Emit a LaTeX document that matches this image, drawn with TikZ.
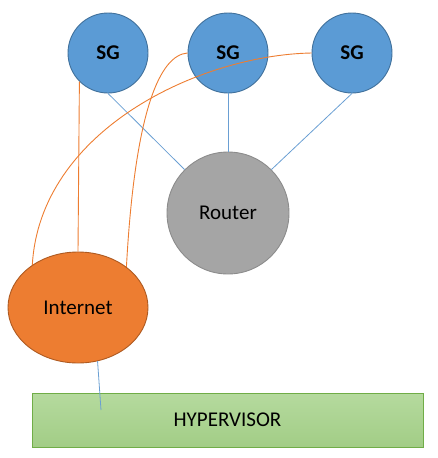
\documentclass[tikz,border=0pt]{standalone}
\usepackage{fontspec}
\setmainfont{Carlito}
\usepackage{tikz}
\usetikzlibrary{positioning,shapes.geometric}

\begin{document}
\begin{tikzpicture}[x=1pt,y=-1pt,
  sg/.style={circle,draw=sgline,fill=sgfill,line width=0.9pt,minimum size=80pt,font=\fontsize{21}{25}\selectfont\bfseries},
  router/.style={circle,draw=routerline,fill=routerfill,line width=0.9pt,minimum size=122pt,font=\fontsize{21}{25}\selectfont},
  net/.style={ellipse,draw=netline,fill=netfill,line width=0.9pt,minimum width=140pt,minimum height=111pt,font=\fontsize{21}{25}\selectfont},
  hyper/.style={rectangle,draw=hyperline,top color=hypertop,bottom color=hyperbot,line width=0.9pt,minimum width=391pt,minimum height=54pt,font=\fontsize{21}{25}\selectfont},
  blueline/.style={draw=bluewire,line width=0.8pt},
  orangeline/.style={draw=orangewire,line width=0.9pt}]
\definecolor{sgfill}{HTML}{5B9BD5}
\definecolor{sgline}{HTML}{41719C}
\definecolor{routerfill}{HTML}{A5A5A5}
\definecolor{routerline}{HTML}{8C8C8C}
\definecolor{netfill}{HTML}{ED7D31}
\definecolor{netline}{HTML}{AE5A21}
\definecolor{hypertop}{HTML}{B5DA9E}
\definecolor{hyperbot}{HTML}{A2CD86}
\definecolor{hyperline}{HTML}{70AD47}
\definecolor{bluewire}{HTML}{6A9FD3}
\definecolor{orangewire}{HTML}{ED7D31}
\useasboundingbox (0,0) rectangle (437,458);
% nodes
\foreach \name/\x in {sga/108,sgb/228,sgc/352} {
  \node[sg] (\name) at (\x,53) {SG};
}
\node[router] (router) at (228,213) {Router};
\node[hyper] (hyper) at (227.5,420) {HYPERVISOR};
\coordinate (hyperend) at (101,410);
% wires
\draw[blueline] (sga.south) -- (router.135);
\draw[blueline] (sgb.south) -- (router.north);
\draw[blueline] (sgc.south) -- (router.45);
\node[net] (internet) at (78,307.5) {Internet};
\draw[orangeline] (sga.225) -- (internet.north);
\draw[orangeline] (sgb.west) .. controls (160,55) and (135,110) .. (internet.40);
\draw[orangeline] (sgc.west) .. controls (200,55) and (40,130) .. (internet.137);
\draw[blueline] (internet.-70) -- (hyperend);
\end{tikzpicture}
\end{document}
